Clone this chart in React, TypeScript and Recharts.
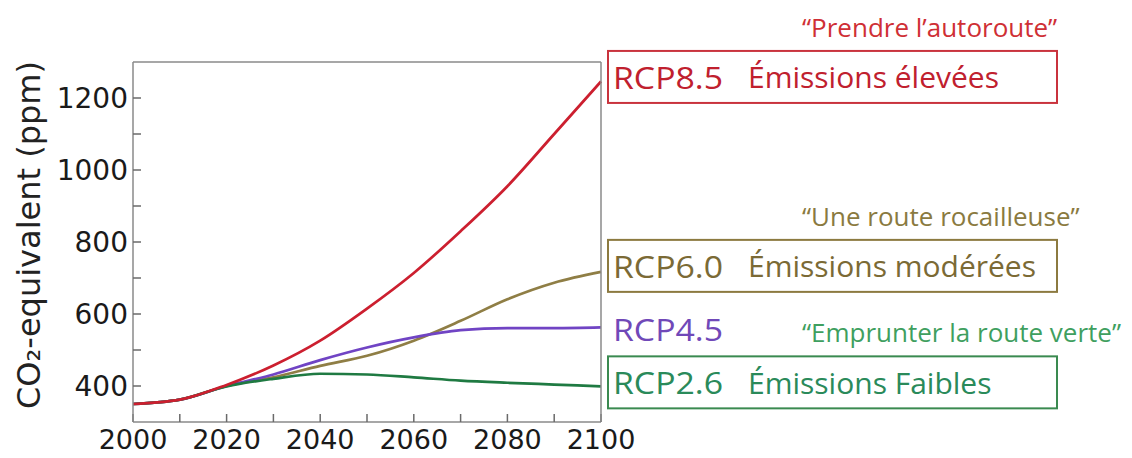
import React from "react";
import { LineChart, Line, XAxis, YAxis, ReferenceDot } from "recharts";

// valeurs (ppm CO2-équivalent, une valeur par décennie)
const years = [2000, 2010, 2020, 2030, 2040, 2050, 2060, 2070, 2080, 2090, 2100];
const rcp85 = [350, 362, 403, 457, 526, 615, 714, 830, 955, 1100, 1246];
const rcp60 = [350, 362, 400, 424, 456, 484, 526, 581, 641, 687, 717];
const rcp45 = [350, 362, 400, 432, 472, 507, 535, 555, 561, 561, 563];
const rcp26 = [350, 362, 399, 420, 434, 432, 424, 415, 409, 404, 399];

const yTicks = [400, 500, 600, 700, 800, 900, 1000, 1100, 1200];
const yTickLabels = [400, 600, 800, 1000, 1200];
const xTickLabels = [2000, 2020, 2040, 2060, 2080, 2100];

const scenarioKeys = ["rcp85", "rcp60", "rcp45", "rcp26"];
const scenarioNames = ["RCP8.5", "RCP6.0", "RCP4.5", "RCP2.6"];
const scenarioDescriptions = ["Émissions élevées", "Émissions modérées", "", "Émissions Faibles"];
const scenarioQuotes = ["“Prendre l’autoroute”", "“Une route rocailleuse”", "", "“Emprunter la route verte”"];
const scenarioSeries = [rcp85, rcp60, rcp45, rcp26];

const data = years.map((year, i) => ({
  year,
  rcp85: rcp85[i],
  rcp60: rcp60[i],
  rcp45: rcp45[i],
  rcp26: rcp26[i],
}));

const styles: Record<string, { line: string; text: string; box: string; quote: string; dy: number }> = {
  rcp85: { line: "#cc1f2f", text: "#c0202e", box: "#c9333d", quote: "#cf2f35", dy: -4.5 },
  rcp60: { line: "#8f7e45", text: "#7b6a35", box: "#8c7a40", quote: "#8a7a40", dy: -6 },
  rcp45: { line: "#7044c4", text: "#7048b8", box: "none", quote: "#7048b8", dy: 2 },
  rcp26: { line: "#1f7a42", text: "#2a8a5a", box: "#3a8a50", quote: "#3f9f5f", dy: -4 },
};

const annoFont = "'Open Sans', sans-serif";

function EndLabel({ cx, cy, index }: { cx: number; cy: number; index: number }) {
  const s = styles[scenarioKeys[index]];
  const y = cy + s.dy;
  return (
    <g>
      {scenarioDescriptions[index] && (
        <rect x={cx + 7} y={y - 26} width={449} height={52} fill="none" stroke={s.box} strokeWidth={2} />
      )}
      <text
        x={cx + 12}
        y={y}
        dominantBaseline="central"
        fontFamily={annoFont}
        fontSize={31}
        fill={s.text}
        textLength={110}
        lengthAdjust="spacingAndGlyphs"
      >
        {scenarioNames[index]}
      </text>
      {scenarioDescriptions[index] && (
        <text x={cx + 147} y={y} dominantBaseline="central" fontFamily={annoFont} fontSize={30} fill={s.text}>
          {scenarioDescriptions[index]}
        </text>
      )}
      {scenarioQuotes[index] && (
        <text x={cx + 201} y={y - 50} dominantBaseline="central" fontFamily={annoFont} fontSize={26} fill={s.quote}>
          {scenarioQuotes[index]}
        </text>
      )}
    </g>
  );
}

function YTitle(props: any) {
  const vb = props.viewBox || { x: 0, y: 62, width: 133, height: 360 };
  const cx = vb.x + 29;
  const cy = vb.y + vb.height / 2 - 7;
  return (
    <text
      x={cx}
      y={cy}
      transform={`rotate(-90 ${cx} ${cy})`}
      textAnchor="middle"
      dominantBaseline="central"
      fontSize={32}
      fill="#222"
    >
      CO₂-equivalent (ppm)
    </text>
  );
}

const axisLine = { stroke: "#8a8a8a", strokeWidth: 1.5 };
const tickLine = { stroke: "#6a6a6a", strokeWidth: 1.5 };

export default function App() {
  return (
    <div style={{ position: "absolute", left: 0, top: 0, width: 1132, height: 458, background: "#fff" }}>
      <LineChart
        width={1132}
        height={458}
        data={data}
        margin={{ top: 61, right: 530, bottom: 0, left: 0 }}
        style={{ fontFamily: "'DejaVu Sans', sans-serif" }}
      >
        <XAxis
          dataKey="year"
          type="number"
          domain={[2000, 2100]}
          ticks={years}
          interval={0}
          tickFormatter={(v: number) => (xTickLabels.includes(v) ? String(v) : "")}
          tickSize={-8}
          tickMargin={16}
          height={36}
          axisLine={axisLine}
          tickLine={tickLine}
          tick={{ fill: "#1a1a1a", fontSize: 27 }}
        />
        <XAxis
          xAxisId="top"
          orientation="top"
          dataKey="year"
          type="number"
          domain={[2000, 2100]}
          tick={false}
          tickLine={false}
          height={1}
          axisLine={axisLine}
        />
        <YAxis
          type="number"
          domain={[300, 1300]}
          ticks={yTicks}
          interval={0}
          tickFormatter={(v: number) => (yTickLabels.includes(v) ? String(v) : "")}
          tickSize={-8}
          tickMargin={13}
          width={133}
          axisLine={axisLine}
          tickLine={tickLine}
          tick={{ fill: "#1a1a1a", fontSize: 28 }}
          label={<YTitle />}
        />
        <YAxis
          yAxisId="right"
          orientation="right"
          type="number"
          domain={[300, 1300]}
          ticks={yTicks}
          interval={0}
          tickFormatter={() => ""}
          tickSize={-8}
          width={1}
          axisLine={axisLine}
          tickLine={tickLine}
        />
        <Line dataKey="rcp60" type="monotone" stroke={styles.rcp60.line} strokeWidth={2.7} dot={false} isAnimationActive={false} />
        <Line dataKey="rcp45" type="monotone" stroke={styles.rcp45.line} strokeWidth={2.7} dot={false} isAnimationActive={false} />
        <Line dataKey="rcp26" type="monotone" stroke={styles.rcp26.line} strokeWidth={2.7} dot={false} isAnimationActive={false} />
        <Line dataKey="rcp85" type="monotone" stroke={styles.rcp85.line} strokeWidth={2.7} dot={false} isAnimationActive={false} />
        {scenarioSeries.map((series, i) => (
          <ReferenceDot
            key={scenarioKeys[i]}
            x={years[years.length - 1]}
            y={series[series.length - 1]}
            r={0}
            ifOverflow="visible"
            shape={(p: any) => <EndLabel cx={p.cx} cy={p.cy} index={i} />}
          />
        ))}
      </LineChart>
    </div>
  );
}
